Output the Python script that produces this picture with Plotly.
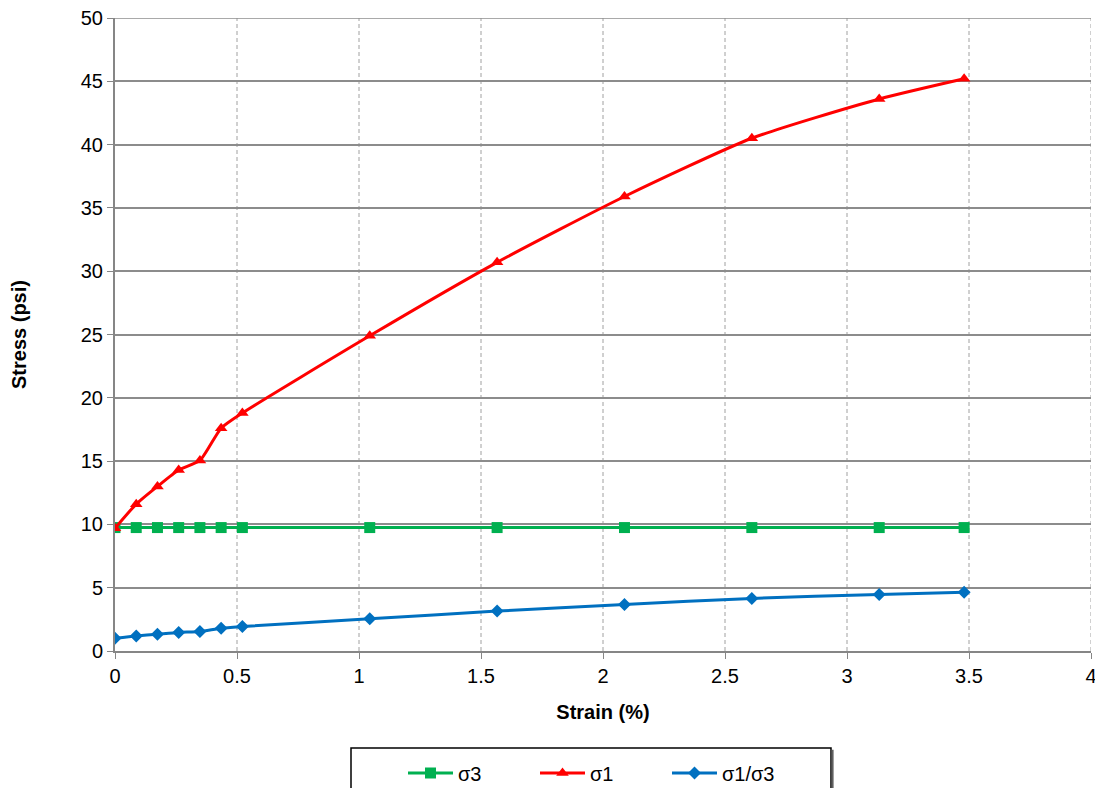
import plotly.graph_objects as go

strain = [0, 0.087, 0.174, 0.261, 0.348, 0.435, 0.522, 1.044, 1.566, 2.088, 2.61, 3.132, 3.48]
sigma3 = [9.75] * 13
sigma1 = [9.7, 11.6, 13.0, 14.3, 15.05, 17.6, 18.8, 24.9, 30.7, 35.9, 40.5, 43.6, 45.2]
ratio = [1.0, 1.19, 1.33, 1.47, 1.54, 1.8, 1.93, 2.55, 3.15, 3.68, 4.15, 4.47, 4.64]

x_ticks = [0, 0.5, 1, 1.5, 2, 2.5, 3, 3.5, 4]
y_ticks = [0, 5, 10, 15, 20, 25, 30, 35, 40, 45, 50]

FONT = "Liberation Sans, Arial, sans-serif"
H = 780
W = 1095
L, R = 107, 12
PW = W - L - R  # plot width in px


def px_to_paper_x(px):
    return (px - 8 - L) / PW


fig = go.Figure()
fig.add_trace(go.Scatter(
    x=strain, y=sigma3, name="σ3", mode="lines+markers",
    line=dict(color="#00B050", width=3, shape="spline", smoothing=0.6),
    marker=dict(symbol="square", size=11, color="#00B050")))
fig.add_trace(go.Scatter(
    x=strain, y=sigma1, name="σ1", mode="lines+markers",
    line=dict(color="#FF0000", width=3, shape="spline", smoothing=0.6),
    marker=dict(symbol="triangle-up", size=11, color="#FF0000")))
fig.add_trace(go.Scatter(
    x=strain, y=ratio, name="σ1/σ3", mode="lines+markers",
    line=dict(color="#0070C0", width=3, shape="spline", smoothing=0.6),
    marker=dict(symbol="diamond", size=10, color="#0070C0")))

# dashed vertical gridlines
for xv in x_ticks[1:]:
    fig.add_shape(type="line", xref="x", yref="y", x0=xv, x1=xv, y0=y_ticks[0], y1=y_ticks[-1],
                  line=dict(color="#A0A0A0", width=1, dash="4px,3px"), layer="below")
# top horizontal gridline (at the range edge)
fig.add_shape(type="line", xref="x", yref="y", x0=x_ticks[0], x1=x_ticks[-1],
              y0=y_ticks[-1], y1=y_ticks[-1],
              line=dict(color="#8C8C8C", width=1.5), layer="below")

# legend frame (runs off the bottom edge like the reference)
fig.add_shape(type="rect", xref="paper", yref="paper",
              x0=px_to_paper_x(351), x1=px_to_paper_x(831), y0=-0.30, y1=-0.1532,
              line=dict(color="black", width=1.5), fillcolor="white", layer="below")
fig.add_shape(type="line", xref="paper", yref="paper",
              x0=px_to_paper_x(832.6), x1=px_to_paper_x(832.6), y0=-0.30, y1=-0.156,
              line=dict(color="#606060", width=2), layer="below")

fig.update_layout(
    width=W, height=H,
    margin=dict(l=L, r=R, t=10, b=H - 10 - 633),
    paper_bgcolor="white", plot_bgcolor="white",
    font=dict(family=FONT, size=20, color="black"),
    showlegend=True,
    legend=dict(
        orientation="h", x=px_to_paper_x(403), xanchor="left",
        yref="container", y=1 - 765 / H, yanchor="middle",
        borderwidth=0, bgcolor="rgba(0,0,0,0)",
        font=dict(family=FONT, size=20, color="black"),
        entrywidth=72, entrywidthmode="pixels",
        itemwidth=45,
    ),
    xaxis=dict(
        range=[0, 4], tickvals=x_ticks, ticktext=[str(v) for v in x_ticks],
        showgrid=False, zeroline=False, automargin=False,
        showline=True, linecolor="#868686", linewidth=2,
        ticks="outside", ticklen=6, tickcolor="#868686",
        tickfont=dict(size=20), ticklabeloverflow="allow",
        title=dict(text="<b>Strain (%)</b>", font=dict(size=20), standoff=19),
    ),
    yaxis=dict(
        range=[0, 50], tickvals=y_ticks,
        showgrid=True, gridcolor="#8C8C8C", gridwidth=1.5, zeroline=False,
        automargin=False,
        showline=True, linecolor="#868686", linewidth=2,
        ticks="outside", ticklen=6, tickcolor="#868686",
        tickfont=dict(size=20), ticklabeloverflow="allow",
        title=dict(text="<b>Stress (psi)</b>", font=dict(size=20), standoff=51),
    ),
)

fig.write_html("out.html")
